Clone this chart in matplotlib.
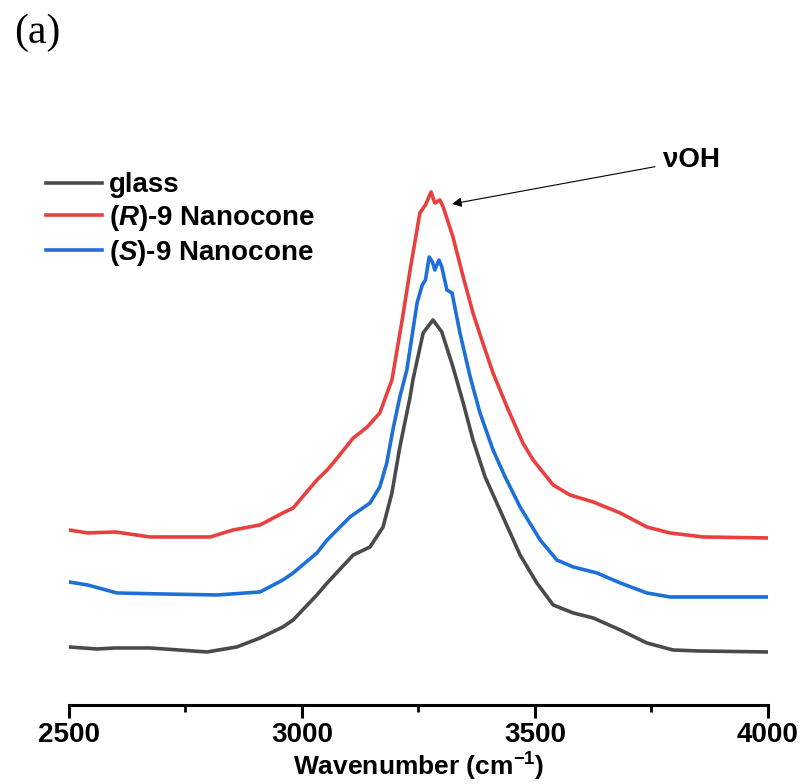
import numpy as np
import matplotlib
matplotlib.use('Agg')
import matplotlib.pyplot as plt
from matplotlib.ticker import MultipleLocator

plt.rcParams['font.family'] = ['Liberation Sans', 'DejaVu Sans']
plt.rcParams['font.weight'] = 'bold'
plt.rcParams['mathtext.fontset'] = 'custom'
plt.rcParams['mathtext.rm'] = 'Liberation Sans:bold'
plt.rcParams['mathtext.bf'] = 'Liberation Sans:bold'
plt.rcParams['mathtext.bfit'] = 'Liberation Sans:bold:italic'

# FTIR spectra (arbitrary units, offset stacked)
glass_wn = [2500, 2560, 2600, 2674, 2796, 2860, 2910, 2959, 2981, 3032, 3054, 3110, 3146,
            3174, 3193, 3210, 3232, 3238, 3260, 3281, 3300, 3324, 3346, 3367, 3393,
            3468, 3504, 3539, 3582, 3625, 3683, 3740, 3796, 3850, 4000]
glass_int = [70, 68, 69, 69, 65, 70, 79, 90, 97, 122, 134, 162, 170,
             190, 224, 270, 320, 337, 384, 397, 385, 350, 314, 277, 240,
             162, 134, 112, 104, 99, 87, 74, 67, 66, 65]

r9_wn = [2500, 2540, 2600, 2674, 2781, 2803, 2852, 2910, 2959, 2981, 3032, 3054, 3067,
         3110, 3124, 3140, 3167, 3185, 3193, 3215, 3232, 3253, 3265, 3277, 3285,
         3296, 3303, 3324, 3346, 3367, 3388, 3410, 3440, 3474, 3496, 3539, 3575,
         3625, 3683, 3740, 3790, 3861, 4000]
r9_int = [187, 184, 185, 180, 180, 180, 187, 192, 204, 209, 237, 247, 254,
          279, 284, 290, 304, 327, 337, 397, 447, 504, 512, 525, 514,
          517, 510, 480, 440, 404, 374, 344, 310, 274, 257, 232, 222,
          215, 204, 190, 184, 180, 179]

s9_wn = [2500, 2540, 2603, 2700, 2818, 2910, 2959, 2981, 3032, 3054, 3103, 3146, 3167,
         3182, 3195, 3210, 3225, 3247, 3258, 3265, 3273, 3280, 3285, 3294, 3300,
         3311, 3322, 3339, 3361, 3382, 3410, 3436, 3468, 3511, 3547, 3582, 3633,
         3683, 3740, 3790, 3850, 4000]
s9_int = [135, 132, 124, 123, 122, 125, 137, 144, 164, 177, 200, 214, 230,
          254, 287, 320, 347, 414, 432, 437, 460, 455, 447, 457, 450,
          427, 424, 384, 340, 304, 267, 240, 210, 177, 157, 150, 144,
          134, 124, 120, 120, 120]

fig = plt.figure(figsize=(8.04, 7.84), dpi=100)
ax = fig.add_axes([0.0858, 0.1008, 0.8694, 0.7717])

ax.plot(glass_wn, glass_int, color='#4a4a4a', lw=2.6, label='glass')
ax.plot(r9_wn, r9_int, color='#e8403f', lw=2.6, label=r'($\mathbfit{R}$)-9 Nanocone')
ax.plot(s9_wn, s9_int, color='#1f6fd8', lw=2.6, label=r'($\mathbfit{S}$)-9 Nanocone')

ax.set_xlim(2500, 4000)
ax.set_ylim(12, 617)
ax.xaxis.set_major_locator(MultipleLocator(500))
ax.xaxis.set_minor_locator(MultipleLocator(250))
for s in ['top', 'right', 'left']:
    ax.spines[s].set_visible(False)
ax.spines['bottom'].set_linewidth(2.2)
ax.set_yticks([])
ax.tick_params(axis='x', which='major', direction='out', length=9, width=2.2,
               labelsize=20, pad=3)
ax.tick_params(axis='x', which='minor', direction='out', length=5, width=2.0)
ax.set_xlabel(r'Wavenumber (cm$^{\mathbf{-1}}$)', fontsize=19, fontweight='bold', va='bottom')
ax.xaxis.set_label_coords(0.5, -0.128)

leg = ax.legend(loc='upper left', bbox_to_anchor=(0.0575, 0.78), bbox_transform=fig.transFigure,
                frameon=False, fontsize=20, handlelength=2.0, handletextpad=0.25,
                labelspacing=0.17, borderpad=0, borderaxespad=0)
for t in leg.get_texts():
    t.set_fontweight('bold')

ax.annotate('νOH', xy=(3322, 513), xytext=(3775, 557), fontsize=20, fontweight='bold',
            va='center', ha='left',
            arrowprops=dict(arrowstyle='-|>', color='black', lw=0.8, mutation_scale=14,
                            shrinkA=4, shrinkB=0))

fig.text(0.017, 0.958, '(a)', fontsize=30, family='Liberation Serif', fontweight='normal',
         va='center', ha='left')

fig.savefig('out.png', dpi=100)
